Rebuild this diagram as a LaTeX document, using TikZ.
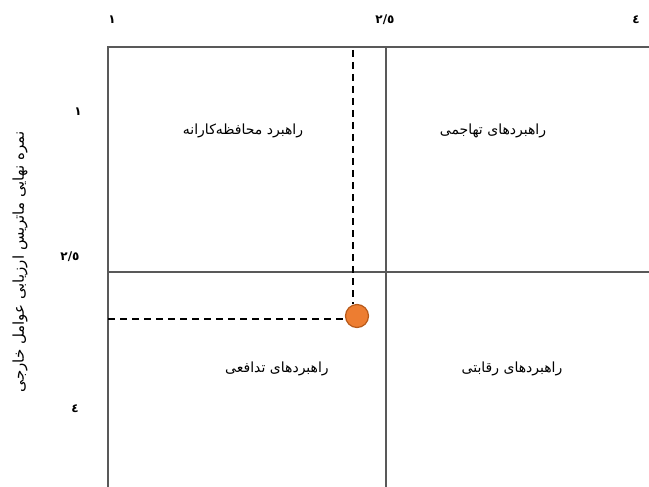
\documentclass[tikz,border=0pt]{standalone}
\usepackage{fontspec}
\newfontfamily\arabicfont[Script=Arabic]{DejaVu Sans}
\TeXXeTstate=1
\definecolor{gridgray}{HTML}{595959}
\definecolor{dotfill}{HTML}{ED7D31}
\definecolor{dotdraw}{HTML}{B85A1A}
\begin{document}
\begin{tikzpicture}[x=1pt,y=-1pt,
  gridline/.style={draw=gridgray,line width=1.3pt},
  guide/.style={draw=black,line width=1.8pt,dash pattern=on 7pt off 5pt},
  quad/.style={font=\arabicfont\fontsize{14}{16}\selectfont,inner sep=0pt},
  ytit/.style={font=\arabicfont\fontsize{15}{17}\selectfont,inner sep=0pt},
  tick/.style={font=\arabicfont\bfseries\fontsize{12}{14}\selectfont,inner sep=0pt}]
\useasboundingbox (0,0) rectangle (649,487);
% frame and grid
\coordinate (tl) at (108,47);
\coordinate (tr) at (649,47);
\coordinate (bl) at (108,487);
\coordinate (tm) at (386,47);
\coordinate (bm) at (386,487);
\coordinate (ml) at (108,272);
\coordinate (mr) at (649,272);
\draw[gridline] (tr) -- (tl) -- (bl);
\draw[gridline] (tm) -- (bm);
\draw[gridline] (ml) -- (mr);
% point and guides
\node[circle,fill=dotfill,draw=dotdraw,line width=1.2pt,minimum size=23pt,inner sep=0pt] (pt) at (357,316) {};
\coordinate (gtop) at (353,50);
\coordinate (gleft) at (108,319);
\draw[guide] (gtop) -- (gtop |- pt.north);
\draw[guide] (gleft) -- (pt.west |- gleft);
% quadrant labels
\node[quad] (q1) at (243,131) {\beginR راهبرد محافظه‌کارانه\endR};
\node[quad] (q2) at (493,131) {\beginR راهبردهای تهاجمی\endR};
\node[quad] (q3) at (277,369) {\beginR راهبردهای تدافعی\endR};
\node[quad] (q4) at (512,369) {\beginR راهبردهای رقابتی\endR};
% top ticks
\node[tick] (t1) at (112,20) {١};
\node[tick] (t2) at (385,20) {٢/٥};
\node[tick] (t3) at (636,20) {٤};
% left ticks
\node[tick] (l1) at (78,112) {١};
\node[tick] (l2) at (70,257) {٢/٥};
\node[tick] (l3) at (75,409) {٤};
% axis title
\node[ytit,rotate=90] (ytitle) at (20,262) {\beginR نمره نهایی ماتریس ارزیابی عوامل خارجی\endR};
\end{tikzpicture}
\end{document}
